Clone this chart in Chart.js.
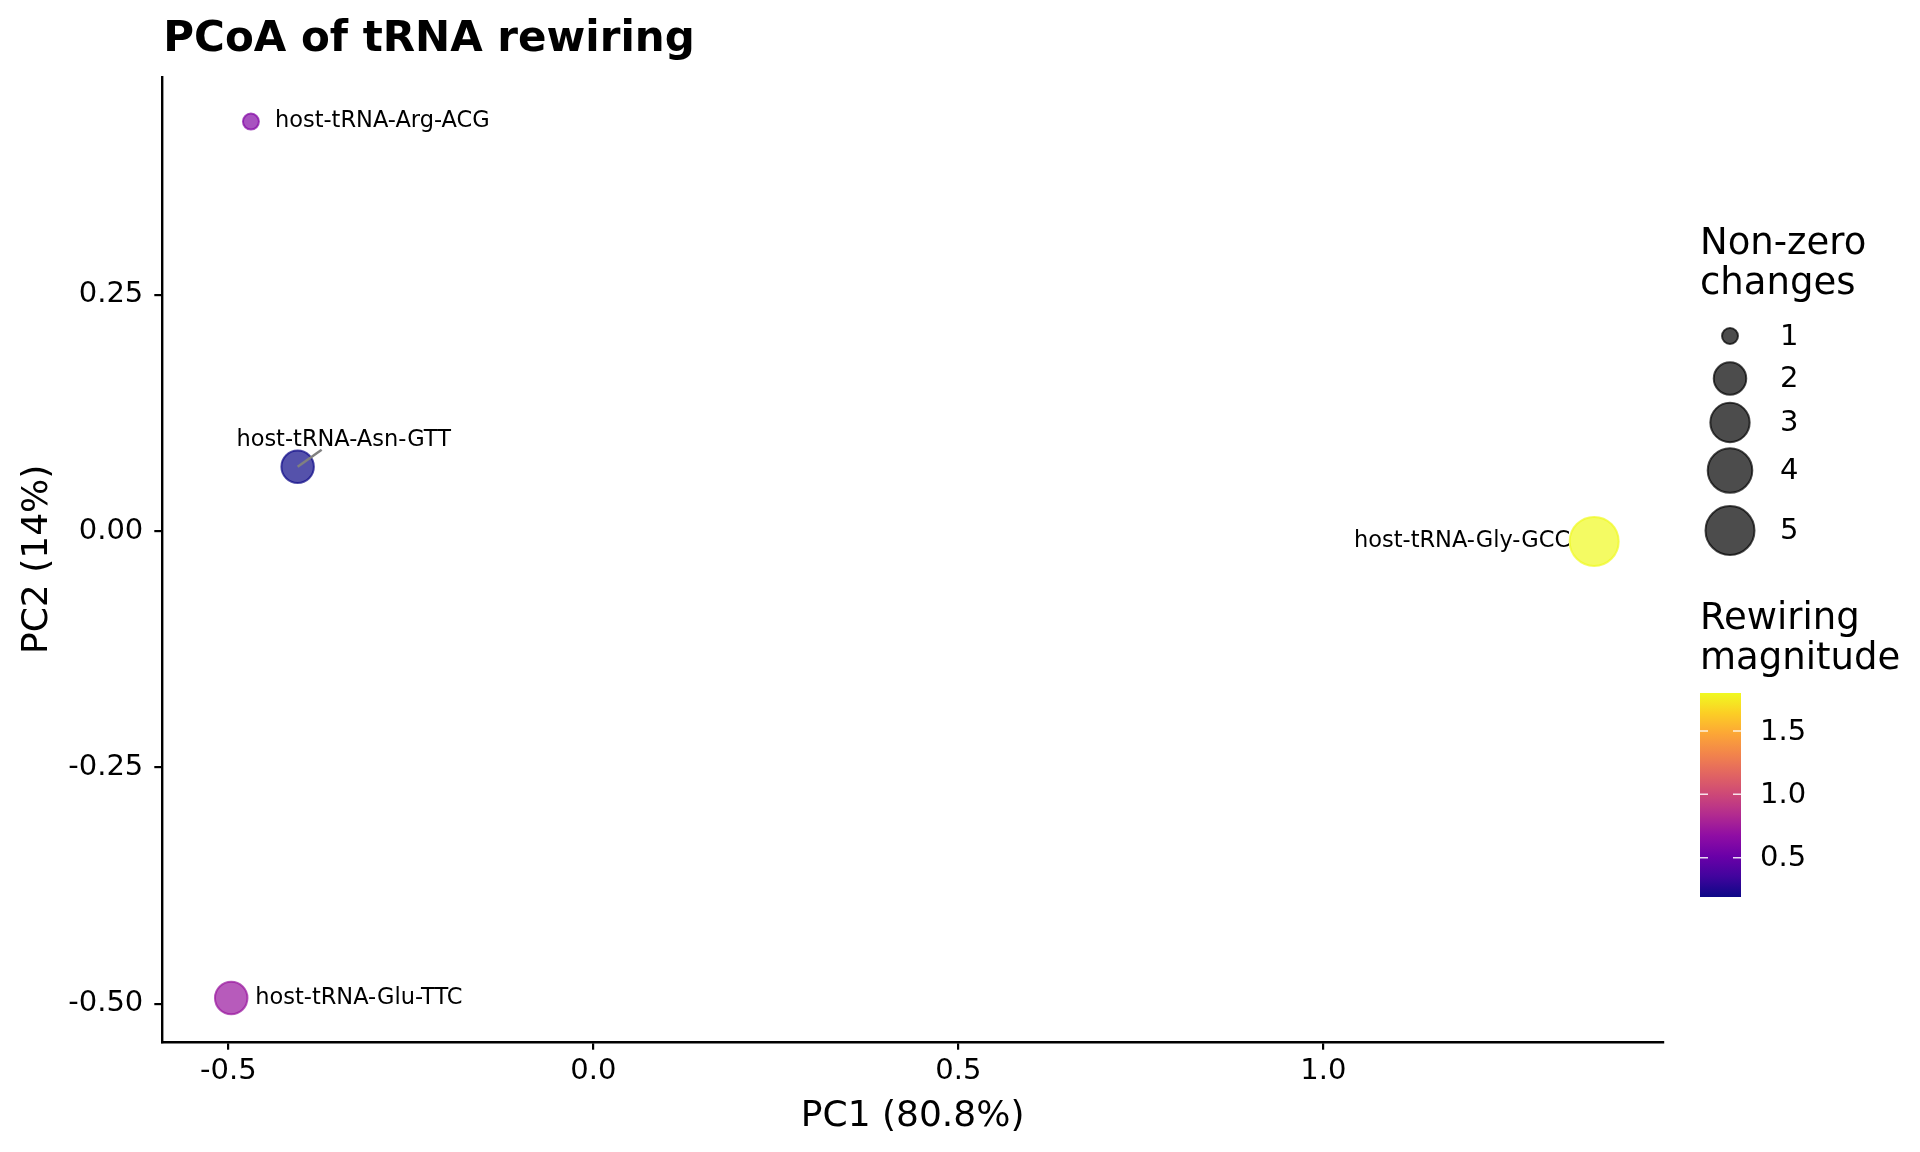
<!DOCTYPE html>
<html>
<head>
<meta charset="utf-8">
<title>PCoA of tRNA rewiring</title>
<script src="https://cdn.jsdelivr.net/npm/chart.js@4.4.1/dist/chart.umd.min.js"></script>
<style>
    html, body { margin: 0; padding: 0; background: #fff; }
    #wrap { width: 1920px; height: 1152px; }
</style>
</head>
<body>
<div id="wrap"><canvas id="pcoa" width="1920" height="1152"></canvas></div>
<script>
// values
const trnaNames = ['host-tRNA-Arg-ACG', 'host-tRNA-Asn-GTT', 'host-tRNA-Gly-GCC', 'host-tRNA-Glu-TTC'];
const pc1 = [-0.469, -0.405, 1.371, -0.496];
const pc2 = [0.433, 0.068, -0.011, -0.494];
const nonZeroChanges = [1, 2, 5, 2];
const rewiringMagnitude = [0.62, 0.19, 1.80, 0.72];

const xTicks = [-0.5, 0.0, 0.5, 1.0];
const yTicks = [-0.50, -0.25, 0.00, 0.25];
const sizeBreaks = [1, 2, 3, 4, 5];
const colorBreaks = [0.5, 1.0, 1.5];

const FONT = "'DejaVu Sans', 'Noto Sans', sans-serif";

// plasma colour map
const plasmaStops = ['#0d0887', '#41049d', '#6a00a8', '#8f0da4', '#b12a90', '#cc4778',
    '#e16462', '#f2844b', '#fca636', '#fcce25', '#f0f921'];
function hexToRgb(h) {
    return [parseInt(h.slice(1, 3), 16), parseInt(h.slice(3, 5), 16), parseInt(h.slice(5, 7), 16)];
}
function plasma(t, alpha) {
    t = Math.max(0, Math.min(1, t));
    const p = t * (plasmaStops.length - 1);
    const i = Math.min(plasmaStops.length - 2, Math.floor(p));
    const f = p - i;
    const a = hexToRgb(plasmaStops[i]), b = hexToRgb(plasmaStops[i + 1]);
    const c = a.map((v, k) => Math.round(v + (b[k] - v) * f));
    return 'rgba(' + c[0] + ',' + c[1] + ',' + c[2] + ',' + alpha + ')';
}

const magMin = Math.min(...rewiringMagnitude);
const magMax = Math.max(...rewiringMagnitude);
const sizeMin = Math.min(...nonZeroChanges);
const sizeMax = Math.max(...nonZeroChanges);

function magColor(v, alpha) {
    return plasma((v - magMin) / (magMax - magMin), alpha);
}
// area-style size scale, like ggplot's scale_size
function sizeRadius(v) {
    return 8 + Math.sqrt((v - sizeMin) / (sizeMax - sizeMin)) * 16.5;
}

// how each label sits next to its point
const labelPlacement = ['right', 'above', 'left', 'right'];

const annotations = {
    id: 'annotations',
    afterDatasetsDraw(chart) {
        const ctx = chart.ctx;
        const meta = chart.getDatasetMeta(0);
        ctx.save();
        ctx.fillStyle = '#000';
        ctx.font = '22.5px ' + FONT;
        meta.data.forEach((el, i) => {
            const side = labelPlacement[i];
            if (side === 'right') {
                ctx.textAlign = 'left';
                ctx.textBaseline = 'middle';
                ctx.fillText(trnaNames[i], el.x + 24, el.y);
            } else if (side === 'left') {
                ctx.textAlign = 'right';
                ctx.textBaseline = 'middle';
                ctx.fillText(trnaNames[i], el.x - 24, el.y);
            } else {
                ctx.strokeStyle = '#808080';
                ctx.lineWidth = 2.5;
                ctx.beginPath();
                ctx.moveTo(el.x, el.y);
                ctx.lineTo(el.x + 24, el.y - 17);
                ctx.stroke();
                ctx.textAlign = 'center';
                ctx.textBaseline = 'alphabetic';
                ctx.fillText(trnaNames[i], el.x + 46, el.y - 21);
            }
        });
        ctx.restore();
    },
    afterDraw(chart) {
        const ctx = chart.ctx;
        const area = chart.chartArea;
        ctx.save();
        ctx.fillStyle = '#000';

        // title
        ctx.font = 'bold 42px ' + FONT;
        ctx.textAlign = 'left';
        ctx.textBaseline = 'alphabetic';
        ctx.fillText('PCoA of tRNA rewiring', area.left + 1, 51);

        // axis titles
        ctx.font = '36px ' + FONT;
        ctx.textAlign = 'center';
        ctx.fillText('PC1 (80.8%)', (area.left + area.right) / 2, 1126);
        ctx.save();
        ctx.translate(47, (area.top + area.bottom) / 2);
        ctx.rotate(-Math.PI / 2);
        ctx.fillText('PC2 (14%)', 0, 0);
        ctx.restore();

        // size legend
        const legX = 1700;
        ctx.textAlign = 'left';
        ctx.font = '37px ' + FONT;
        ctx.fillText('Non-zero', legX, 254);
        ctx.fillText('changes', legX, 294);
        const keyY = [336, 378.5, 422.5, 470.5, 530.5];
        sizeBreaks.forEach((v, i) => {
            ctx.beginPath();
            ctx.arc(1730, keyY[i], sizeRadius(v), 0, Math.PI * 2);
            ctx.fillStyle = 'rgba(0,0,0,0.7)';
            ctx.fill();
            ctx.lineWidth = 2;
            ctx.strokeStyle = 'rgba(0,0,0,0.7)';
            ctx.stroke();
            ctx.fillStyle = '#000';
            ctx.font = '29px ' + FONT;
            ctx.textBaseline = 'middle';
            ctx.fillText(String(v), 1780, keyY[i] + 1);
            ctx.textBaseline = 'alphabetic';
        });

        // colour bar legend
        ctx.font = '37px ' + FONT;
        ctx.fillText('Rewiring', legX, 629);
        ctx.fillText('magnitude', legX, 669);
        const barL = 1700, barR = 1741, barT = 693, barB = 897;
        const grad = ctx.createLinearGradient(0, barB, 0, barT);
        for (let k = 0; k <= 20; k++) {
            grad.addColorStop(k / 20, plasma(k / 20, 1));
        }
        ctx.fillStyle = grad;
        ctx.fillRect(barL, barT, barR - barL, barB - barT);
        ctx.font = '29px ' + FONT;
        ctx.textBaseline = 'middle';
        colorBreaks.forEach(v => {
            const y = barB - (v - magMin) / (magMax - magMin) * (barB - barT);
            ctx.strokeStyle = 'rgba(255,255,255,0.85)';
            ctx.lineWidth = 1.5;
            ctx.beginPath();
            ctx.moveTo(barL, y); ctx.lineTo(barL + 8, y);
            ctx.moveTo(barR - 8, y); ctx.lineTo(barR, y);
            ctx.stroke();
            ctx.fillStyle = '#000';
            ctx.fillText(v.toFixed(1), 1760, y + 1);
        });
        ctx.restore();
    }
};

const chart = new Chart(document.getElementById('pcoa').getContext('2d'), {
    type: 'scatter',
    data: {
        datasets: [{
            label: 'tRNA',
            data: pc1.map((x, i) => ({ x: x, y: pc2[i] })),
            backgroundColor: c => magColor(rewiringMagnitude[c.dataIndex], 0.7),
            borderColor: c => magColor(rewiringMagnitude[c.dataIndex], 0.7),
            borderWidth: 2,
            pointRadius: c => sizeRadius(nonZeroChanges[c.dataIndex]),
            pointHoverRadius: c => sizeRadius(nonZeroChanges[c.dataIndex]),
            clip: false
        }]
    },
    options: {
        responsive: false,
        devicePixelRatio: 1,
        animation: false,
        layout: { padding: { left: 0, top: 77, right: 257, bottom: 0 } },
        plugins: {
            legend: { display: false },
            tooltip: { enabled: false }
        },
        scales: {
            x: {
                type: 'linear',
                min: -0.5904,
                max: 1.4653,
                afterFit: s => { s.height = 110.3; },
                afterBuildTicks: s => { s.ticks = xTicks.map(v => ({ value: v })); },
                grid: { drawOnChartArea: false, color: '#000', lineWidth: 2.2, tickLength: 8 },
                border: { display: true, color: '#000', width: 2.4 },
                ticks: {
                    color: '#000',
                    font: { family: FONT, size: 29 },
                    padding: 4,
                    maxRotation: 0,
                    autoSkip: false,
                    callback: v => Number(v).toFixed(1)
                }
            },
            y: {
                type: 'linear',
                min: -0.5402,
                max: 0.4802,
                afterFit: s => { s.width = 162.3; },
                afterBuildTicks: s => { s.ticks = yTicks.map(v => ({ value: v })); },
                grid: { drawOnChartArea: false, color: '#000', lineWidth: 2.2, tickLength: 8 },
                border: { display: true, color: '#000', width: 2.4 },
                ticks: {
                    color: '#000',
                    font: { family: FONT, size: 29 },
                    padding: 11,
                    autoSkip: false,
                    callback: v => Number(v).toFixed(2)
                }
            }
        }
    },
    plugins: [annotations]
});
</script>
</body>
</html>
